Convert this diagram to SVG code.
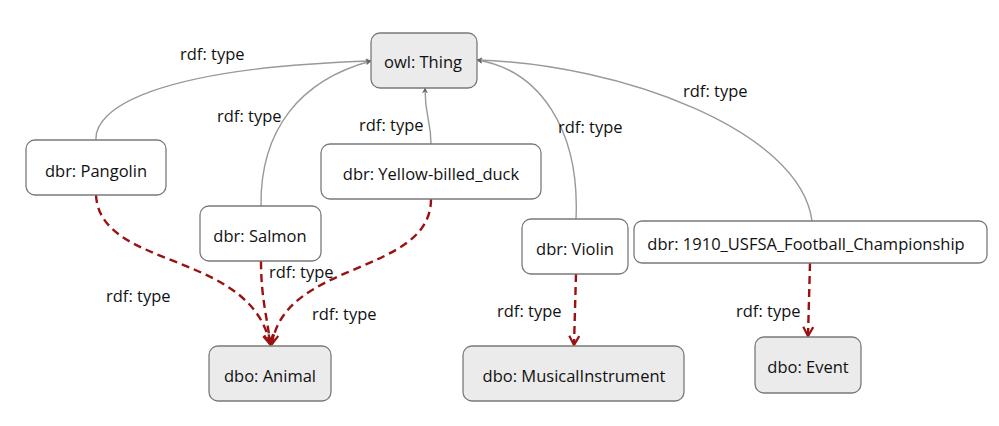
<svg xmlns="http://www.w3.org/2000/svg" width="999" height="426" viewBox="0 0 999 426">
<defs>
<style>
.n{fill:#fff;stroke:#7a7a7a;stroke-width:1.3}
.c{fill:#ebebeb;stroke:#7a7a7a;stroke-width:1.3}
text{font-family:"Open Sans","Liberation Sans",sans-serif;font-size:16.5px;fill:#111}
.t{text-anchor:middle;dominant-baseline:central}
.g{fill:none;stroke:#999;stroke-width:1.4}
.r{fill:none;stroke:#9b1111;stroke-width:2.4;stroke-dasharray:8 5}
</style>
<marker id="ag" viewBox="0 0 10 10" refX="9" refY="5" markerWidth="6" markerHeight="6" orient="auto" markerUnits="userSpaceOnUse">
<path d="M0,0 L10,5 L0,10 L3,5 z" fill="#666"/>
</marker>
<marker id="ar" viewBox="0 0 12 12" refX="10" refY="6" markerWidth="12" markerHeight="12" orient="auto" markerUnits="userSpaceOnUse">
<path d="M1,1 L10,6 L1,11" fill="none" stroke="#9b1111" stroke-width="2.2"/>
</marker>
</defs>
<g id="connectors">
<path class="g" d="M96,140 C94,110 150,68 371,61" marker-end="url(#ag)"/>
<path class="g" d="M261,206 C260,130 300,80 371,61" marker-end="url(#ag)"/>
<path class="g" d="M431,144 C431,120 425,118 425,88" marker-end="url(#ag)"/>
<path class="g" d="M576,219 C580,130 540,70 477,60" marker-end="url(#ag)"/>
<path class="g" d="M812,221 C800,130 620,64 477,60" marker-end="url(#ag)"/>
<path class="r" d="M96,195 C100,270 250,250 270,344" marker-end="url(#ar)"/>
<path class="r" d="M261,261 C261,300 268,320 270,344" marker-end="url(#ar)"/>
<path class="r" d="M431,199 C431,275 285,260 272,344" marker-end="url(#ar)"/>
<path class="r" d="M576,274 L574,345" marker-end="url(#ar)"/>
<path class="r" d="M810,263 L808,336" marker-end="url(#ar)"/>
<text x="180" y="60">rdf: type</text>
<text x="217" y="122">rdf: type</text>
<text x="359" y="131">rdf: type</text>
<text x="558" y="133">rdf: type</text>
<text x="683" y="97">rdf: type</text>
<text x="106" y="302">rdf: type</text>
<text x="269" y="278">rdf: type</text>
<text x="312" y="320">rdf: type</text>
<text x="497" y="317">rdf: type</text>
<text x="736" y="317">rdf: type</text>
</g>
<g id="thing"><rect class="c" x="371" y="33" width="106" height="55" rx="9"/><text class="t" x="423" y="61">owl: Thing</text></g>
<g id="pangolin"><rect class="n" x="26" y="140" width="140" height="55" rx="9"/><text class="t" x="96" y="170">dbr: Pangolin</text></g>
<g id="salmon"><rect class="n" x="200" y="206" width="121" height="55" rx="9"/><text class="t" x="260" y="235">dbr: Salmon</text></g>
<g id="duck"><rect class="n" x="321" y="144" width="220" height="55" rx="9"/><text class="t" x="431" y="173">dbr: Yellow-billed_duck</text></g>
<g id="violin"><rect class="n" x="522" y="219" width="106" height="55" rx="9"/><text class="t" x="575" y="248">dbr: Violin</text></g>
<g id="football"><rect class="n" x="634" y="221" width="353" height="42" rx="8"/><text class="t" x="806" y="243">dbr: 1910_USFSA_Football_Championship</text></g>
<g id="animal"><rect class="c" x="209" y="346" width="122" height="55" rx="9"/><text class="t" x="270" y="375">dbo: Animal</text></g>
<g id="instrument"><rect class="c" x="463" y="346" width="221" height="55" rx="9"/><text class="t" x="574" y="375">dbo: MusicalInstrument</text></g>
<g id="event"><rect class="c" x="755" y="337" width="106" height="56" rx="9"/><text class="t" x="808" y="366">dbo: Event</text></g>
</svg>
